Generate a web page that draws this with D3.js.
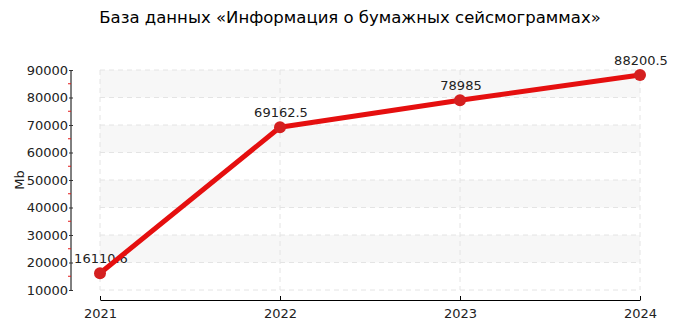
<!DOCTYPE html>
<html>
<head>
<meta charset="utf-8">
<script src="https://cdn.jsdelivr.net/npm/d3@7"></script>
<style>
  body { margin: 0; background: #fff; }
  text { font-family: "DejaVu Sans", sans-serif; }
</style>
</head>
<body>
<script>
// chart data
var years = ["2021", "2022", "2023", "2024"];
var sizes = [16110.6, 69162.5, 78985, 88200.5];
var yTicks = [10000, 20000, 30000, 40000, 50000, 60000, 70000, 80000, 90000];
var title = "База данных «Информация о бумажных сейсмограммах»";
var yLabel = "Mb";

var width = 700, height = 325;
var margin = {top: 70, right: 60, bottom: 35, left: 100};

var svg = d3.select("body").append("svg")
    .attr("width", width)
    .attr("height", height);

var x = d3.scalePoint()
    .domain(years)
    .range([margin.left, width - margin.right]);

var y = d3.scaleLinear()
    .domain([10000, 90000])
    .range([height - margin.bottom, margin.top]);

// alternating bands
for (var i = 0; i < yTicks.length - 1; i++) {
  if ((yTicks.length - 2 - i) % 2 == 0) {
    svg.append("rect")
        .attr("x", margin.left)
        .attr("y", y(yTicks[i + 1]))
        .attr("width", width - margin.right - margin.left)
        .attr("height", y(yTicks[i]) - y(yTicks[i + 1]))
        .style("fill", "#f7f7f7");
  }
}

// grid lines
svg.append("g").selectAll("line")
    .data(yTicks)
  .enter().append("line")
    .attr("x1", margin.left)
    .attr("x2", width - margin.right)
    .attr("y1", function(d) { return y(d); })
    .attr("y2", function(d) { return y(d); })
    .style("stroke", "#e4e4e4")
    .style("stroke-dasharray", "5,4");

svg.append("g").selectAll("line")
    .data(years)
  .enter().append("line")
    .attr("x1", function(d) { return x(d); })
    .attr("x2", function(d) { return x(d); })
    .attr("y1", y(90000))
    .attr("y2", y(10000))
    .style("stroke", "#e4e4e4")
    .style("stroke-dasharray", "5,4");

// y axis
var yAxisX = 71;
var yAxis = svg.append("g")
    .attr("transform", "translate(" + yAxisX + ",0)")
    .call(d3.axisLeft(y).tickValues(yTicks).tickSize(2).tickPadding(1).tickFormat(d3.format("d")));
yAxis.select(".domain").attr("d", "M0," + y(10000) + "V" + y(90000)).style("stroke", "#000");
yAxis.selectAll(".tick line").attr("x1", -2).attr("x2", 2).style("stroke", "#333");
yAxis.selectAll("text").style("font-size", "13px").style("fill", "#222");

// minor red ticks
svg.append("g").selectAll("line")
    .data(yTicks.slice(0, -1).map(function(d) { return d + 5000; }))
  .enter().append("line")
    .attr("x1", yAxisX - 3)
    .attr("x2", yAxisX)
    .attr("y1", function(d) { return y(d); })
    .attr("y2", function(d) { return y(d); })
    .style("stroke", "#e31a1a");

// x axis
var xAxis = svg.append("g")
    .attr("transform", "translate(0," + (height - 25) + ")")
    .call(d3.axisTop(x).tickSize(4).tickSizeOuter(0));
xAxis.select(".domain").style("stroke", "#000");
xAxis.selectAll("text")
    .attr("y", 18)
    .style("font-size", "13px")
    .style("fill", "#222");

// y label
svg.append("text")
    .attr("transform", "translate(24," + ((y(10000) + y(90000)) / 2) + ") rotate(-90)")
    .attr("text-anchor", "middle")
    .style("font-size", "13px")
    .style("fill", "#222")
    .text(yLabel);

// title
svg.append("text")
    .attr("x", width / 2)
    .attr("y", 23)
    .attr("text-anchor", "middle")
    .style("font-size", "16.5px")
    .style("fill", "#000")
    .text(title);

// value labels (drawn under the line)
svg.append("g").selectAll("text")
    .data(sizes)
  .enter().append("text")
    .attr("x", function(d, i) { return x(years[i]) + 1; })
    .attr("y", function(d) { return y(d) - 10; })
    .attr("text-anchor", "middle")
    .style("font-size", "13px")
    .style("fill", "#222")
    .text(function(d) { return d; });

// line
var line = d3.line()
    .x(function(d, i) { return x(years[i]); })
    .y(function(d) { return y(d); });

svg.append("path")
    .datum(sizes)
    .attr("d", line)
    .style("fill", "none")
    .style("stroke", "#e50f0f")
    .style("stroke-width", 5)
    .style("stroke-linejoin", "round");

svg.append("g").selectAll("circle")
    .data(sizes)
  .enter().append("circle")
    .attr("cx", function(d, i) { return x(years[i]); })
    .attr("cy", function(d) { return y(d); })
    .attr("r", 6)
    .style("fill", "#d42020");
</script>
</body>
</html>
